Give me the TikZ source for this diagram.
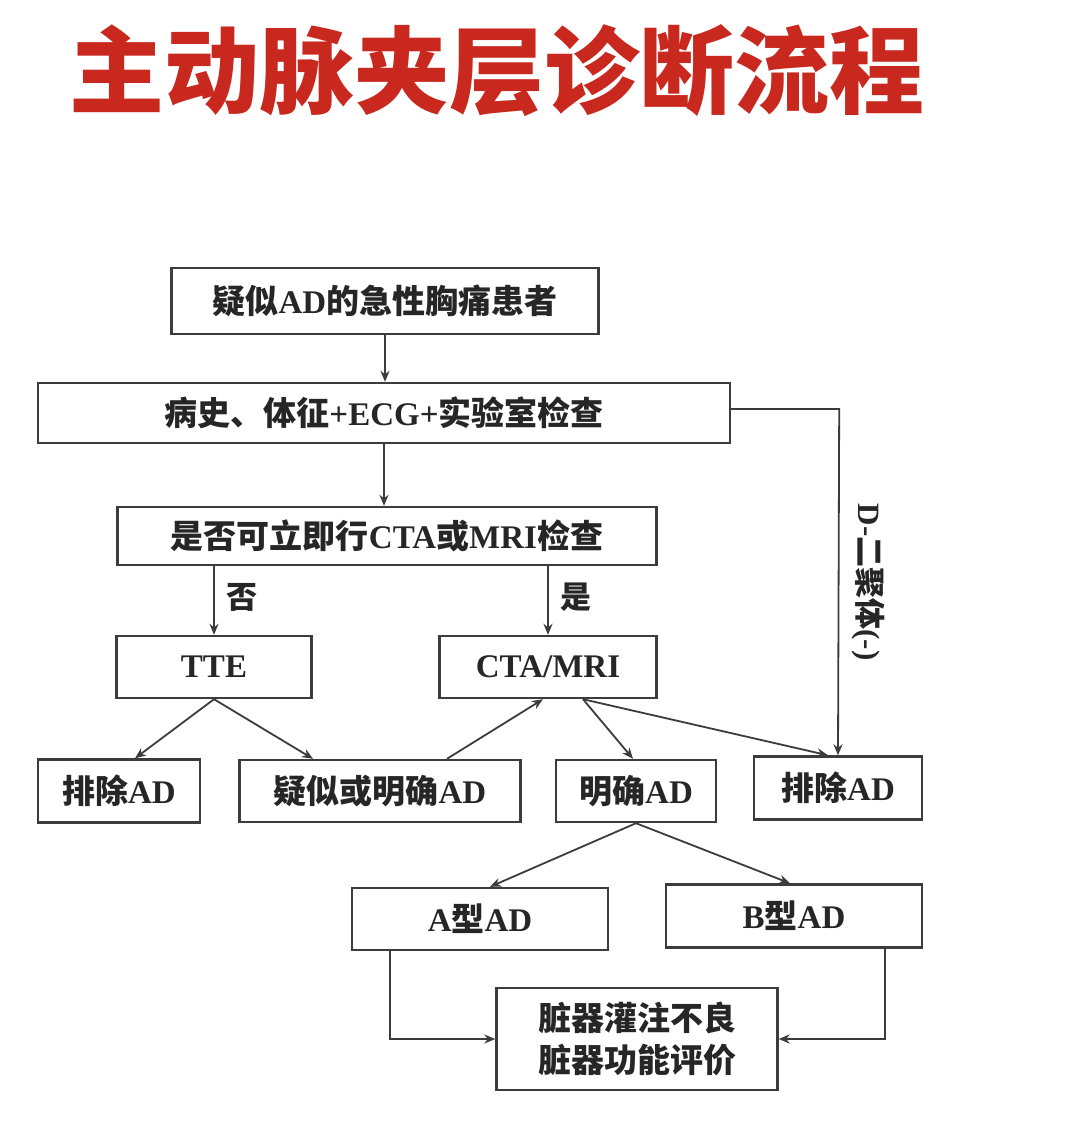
\documentclass[tikz,border=0pt]{standalone}
\usepackage{fontspec}
\setmainfont{Liberation Serif}
\newfontfamily\cjk{Noto Sans CJK SC}
\usetikzlibrary{arrows.meta,calc}
\newcommand{\zh}[1]{{\cjk #1}}
\definecolor{titlered}{RGB}{200,40,30}
\definecolor{ink}{RGB}{60,60,60}
\begin{document}
\begin{tikzpicture}[x=1pt,y=-1pt,
  box/.style={draw=ink,line width=2.4pt,inner sep=0pt,align=center,text=black!85,
    font=\fontsize{33}{42}\selectfont\bfseries},
  conn/.style={draw=ink,line width=1.8pt,-{Stealth[length=11pt,width=9pt]}},
  lab/.style={text=black!85,font=\fontsize{31}{34}\selectfont\bfseries}]
\useasboundingbox[fill=white] (0,0) rectangle (1080,1138);
\node[text=titlered,font=\fontsize{95}{100}\selectfont\cjk\bfseries] (title) at (497,71) {主动脉夹层诊断流程};

\node[box,minimum width=427pt,minimum height=66pt] (start) at (385,301) {\zh{疑似}AD\zh{的急性胸痛患者}};
\node[box,minimum width=692pt,minimum height=60pt] (hist) at (384,413) {\zh{病史、体征}+ECG+\zh{实验室检查}};
\node[box,minimum width=539pt,minimum height=58pt] (q) at (387,536) {\zh{是否可立即行}CTA\zh{或}MRI\zh{检查}};
\node[box,minimum width=195pt,minimum height=62pt] (tte) at (214,667) {TTE};
\node[box,minimum width=217pt,minimum height=62pt] (cta) at (548,667) {CTA/MRI};
\node[box,minimum width=162pt,minimum height=63pt] (ex1) at (119,791) {\zh{排除}AD};
\node[box,minimum width=281pt,minimum height=62pt] (sus) at (380,791) {\zh{疑似或明确}AD};
\node[box,minimum width=160pt,minimum height=62pt] (def) at (636,791) {\zh{明确}AD};
\node[box,minimum width=168pt,minimum height=63pt] (ex2) at (838,788) {\zh{排除}AD};
\node[box,minimum width=256pt,minimum height=62pt] (ta) at (480,919) {A\zh{型}AD};
\node[box,minimum width=256pt,minimum height=63pt] (tb) at (794,916) {B\zh{型}AD};
\node[box,minimum width=281pt,minimum height=102pt] (org) at (637,1039) {\zh{脏器灌注不良}\\\zh{脏器功能评价}};

\draw[conn] (start.south) -- (start.south |- hist.north);
\draw[conn] (hist.south) -- (hist.south |- q.north);
\coordinate (dturn) at ($(hist.east)+(108,-4)$);
\draw[conn] ($(hist.east)+(0,-4)$) -- (dturn) -- (ex2.north);
\node[lab,rotate=-90] (dlab) at (868,582) {D-\zh{二聚体}(-)};

\draw[conn] (q.south -| tte.north) -- node[lab,right=8pt,pos=0.45] (no) {\zh{否}} (tte.north);
\draw[conn] (q.south -| cta.north) -- node[lab,right=8pt,pos=0.45] (yes) {\zh{是}} (cta.north);

\draw[conn] (tte.south) -- ([xshift=16pt]ex1.north);
\draw[conn] (tte.south) -- ([xshift=-67pt]sus.north);
\draw[conn] ([xshift=67pt]sus.north) -- ([xshift=-5pt]cta.south);
\draw[conn] ([xshift=35pt]cta.south) -- ([xshift=-3pt]def.north);
\draw[conn] ([xshift=35pt]cta.south) -- ([xshift=-10pt]ex2.north);

\draw[conn] (def.south) -- ([xshift=10pt]ta.north);
\draw[conn] (def.south) -- ([xshift=-4pt]tb.north);

\draw[conn] ([xshift=-90pt]ta.south) |- (org.west);
\draw[conn] ([xshift=91pt]tb.south) |- (org.east);
\end{tikzpicture}
\end{document}
